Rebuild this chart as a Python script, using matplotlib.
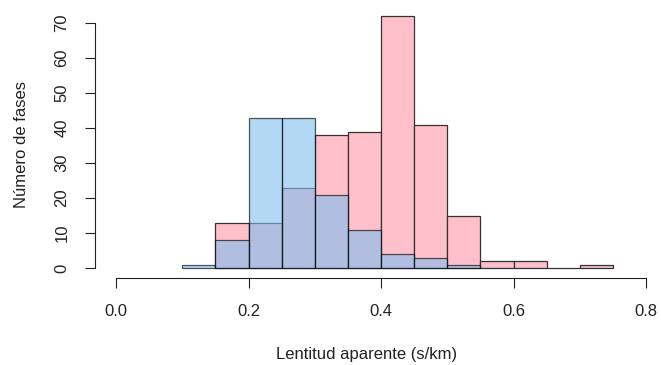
import numpy as np
import matplotlib.pyplot as plt

# histogram counts per 0.05 s/km bin
pink_edges = [0.15, 0.20, 0.25, 0.30, 0.35, 0.40, 0.45, 0.50, 0.55, 0.60, 0.65, 0.70, 0.75]
pink_counts = [13, 13, 23, 38, 39, 72, 41, 15, 2, 2, 0, 1]
blue_edges = [0.10, 0.15, 0.20, 0.25, 0.30, 0.35, 0.40, 0.45, 0.50, 0.55]
blue_counts = [1, 8, 43, 43, 21, 11, 4, 3, 1]

x_ticks = [0.0, 0.2, 0.4, 0.6, 0.8]
x_labels = ["0.0", "0.2", "0.4", "0.6", "0.8"]
y_ticks = [0, 10, 20, 30, 40, 50, 60, 70]

plt.rcParams['font.family'] = ['Liberation Sans', 'DejaVu Sans']

W, H = 661, 365
fig = plt.figure(figsize=(W / 100, H / 100), dpi=100)
ax = fig.add_axes([116 / W, 1 - 268 / H, 530 / W, 245 / H])
ax.set_xlim(0, 0.8)
ax.set_ylim(0, 70)
ax.patch.set_alpha(0)

pe = np.array(pink_edges)
ax.bar(pe[:-1], pink_counts, width=np.diff(pe), align='edge',
       facecolor='#ffc0cb', edgecolor='#333333', linewidth=0.9, clip_on=False)
be = np.array(blue_edges)
ax.bar(be[:-1], blue_counts, width=np.diff(be), align='edge',
       facecolor=(127 / 255, 190 / 255, 238 / 255, 0.6),
       edgecolor=(0, 0, 0, 0.65), linewidth=0.9, clip_on=False)

for s in ['top', 'right']:
    ax.spines[s].set_visible(False)
ax.spines['left'].set_position(('outward', 21 * 0.72))
ax.spines['bottom'].set_position(('outward', 10 * 0.72))
ax.spines['left'].set_bounds(0, 70)
ax.spines['bottom'].set_bounds(0, 0.8)
for s in ['left', 'bottom']:
    ax.spines[s].set_linewidth(0.8)
    ax.spines[s].set_color('#222222')

ax.set_xticks(x_ticks)
ax.set_xticklabels(x_labels)
ax.set_yticks(y_ticks)
ax.set_yticklabels([str(v) for v in y_ticks], rotation=90, va='center')
ax.tick_params(axis='both', length=7.5, width=0.8, color='#222222',
               labelsize=12, labelcolor='#222222', pad=11)

fig.text(367 / W, 1 - 354 / H, "Lentitud aparente (s/km)", ha='center', va='center',
         fontsize=12, color='#222222')
fig.text(22 / W, 1 - 145 / H, "Número de fases", ha='center', va='center',
         rotation=90, fontsize=12, color='#222222')

fig.savefig("out.png", dpi=100)
